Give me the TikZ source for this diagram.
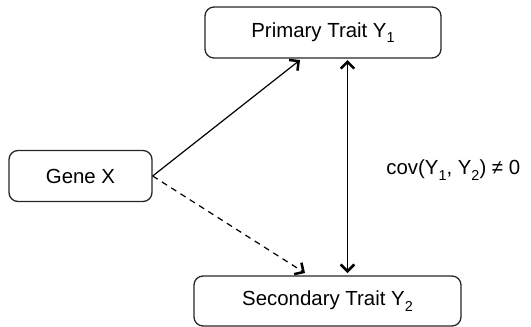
\documentclass[tikz,border=0pt]{standalone}
\usepackage{fontspec}
\setmainfont{Liberation Sans}
\usetikzlibrary{arrows.meta}
\newcommand\lowsub[1]{\raisebox{-0.5ex}{\fontsize{7.2}{8}\selectfont #1}}
\tikzset{
  txt/.style={font=\fontsize{10.2}{12}\selectfont},
  box/.style={txt, draw=black!85, line width=0.65pt, rounded corners=4.5pt, inner sep=0pt},
  tip/.tip={Straight Barb[length=3.4pt,width=6.8pt,line width=1.25pt]},
  conn/.style={line width=0.6pt, -tip},
  both/.style={line width=0.6pt, tip-tip},
}
\begin{document}
\begin{tikzpicture}[x=0.5pt,y=-0.5pt]
\useasboundingbox (0,0) rectangle (531,327);
\node[box, minimum width=118pt, minimum height=25.5pt] (P) at (323,32.5) {Primary Trait Y\lowsub{1}};
\node[box, minimum width=71.5pt, minimum height=25.5pt] (G) at (80.5,176) {Gene X};
\node[box, minimum width=133.5pt, minimum height=25pt] (S) at (327.5,301) {Secondary Trait Y\lowsub{2}};
\node[txt, anchor=west, inner sep=0pt] (L) at (386,170) {cov(Y\lowsub{1}, Y\lowsub{2}) ≠ 0};
\coordinate (a1) at (300,60);
\coordinate (a2) at (305,273);
\coordinate (v1) at (347.5,60);
\coordinate (v2) at (347.5,273);
\draw[conn] (G.east) -- (a1);
\draw[conn, dash pattern=on 3pt off 2.5pt] (G.east) -- (a2);
\draw[both] (v1) -- (v2);
\end{tikzpicture}
\end{document}
